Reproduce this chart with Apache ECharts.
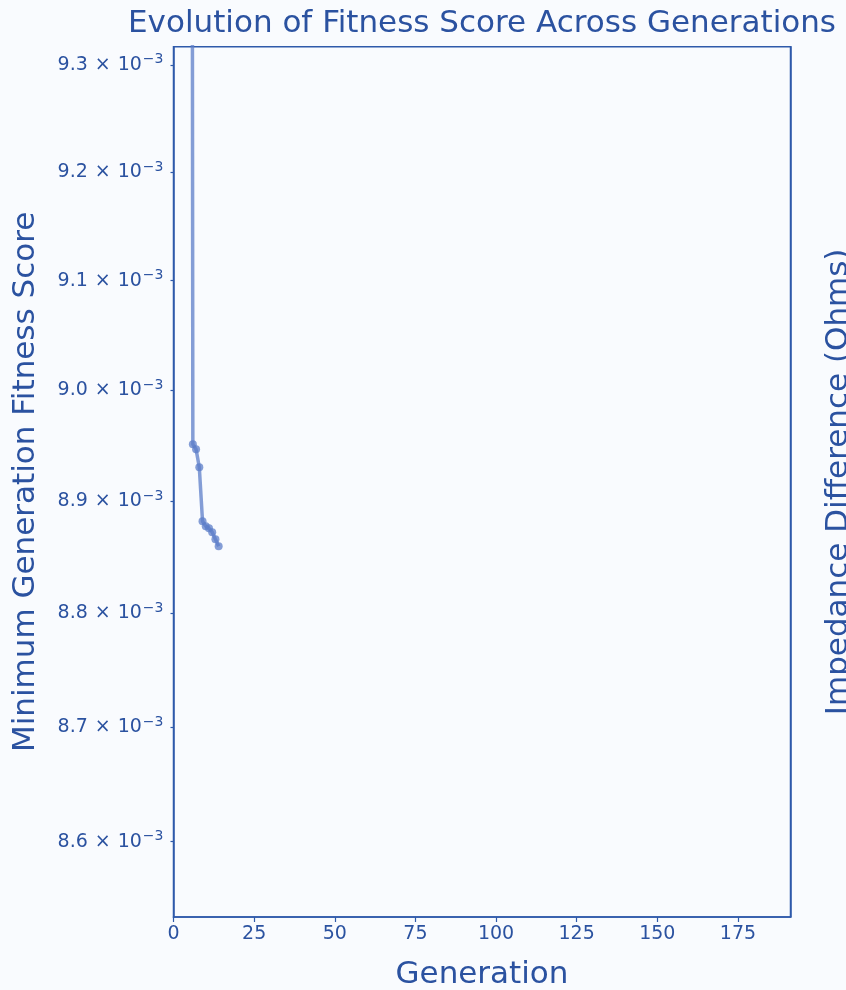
<!DOCTYPE html>
<html>
<head>
<meta charset="utf-8">
<style>
  html, body { margin: 0; padding: 0; background: #f9fbfe; }
  #chart { width: 846px; height: 990px; }
</style>
<script src="https://cdn.jsdelivr.net/npm/echarts@6/dist/echarts.min.js"></script>
</head>
<body>
<div id="chart"></div>
<script>
// Best (minimum) fitness score of each generation
const generations = [0, 1, 2, 3, 4, 5, 6, 7, 8, 9, 10, 11, 12, 13, 14];
const minFitness = [0.0412, 0.0298, 0.0215, 0.0167, 0.0139, 0.0121,
  0.0089512, 0.0089467, 0.0089305, 0.0088821, 0.0088776, 0.0088758,
  0.0088723, 0.0088660, 0.0088598];

// Log-scale tick values shown on the fitness axis
const yTicks = [0.0086, 0.0087, 0.0088, 0.0089, 0.0090, 0.0091, 0.0092, 0.0093];
const xTicks = [0, 25, 50, 75, 100, 125, 150, 175];

const yRange = [0.008535, 0.009317];
const xRange = [0, 191.3];

const ink = '#2b52a0';
const spine = '#2f5aaa';
const font = 'DejaVu Sans';

// The fitness axis is drawn in log10 space so that it behaves as a log scale
const log10 = v => Math.log10(v);

const chart = echarts.init(document.getElementById('chart'), null, { renderer: 'canvas' });

chart.setOption({
  backgroundColor: '#f9fbfe',
  animation: false,
  title: {
    text: 'Evolution of Fitness Score Across Generations',
    left: 482,
    top: 8,
    padding: 0,
    textAlign: 'center',
    textStyle: { color: ink, fontFamily: font, fontSize: 31, fontWeight: 'normal' }
  },
  grid: {
    left: 173.5, right: 55.5, top: 46.7, bottom: 73,
    outerBoundsMode: 'none',
    containLabel: false,
    show: true, borderColor: spine, borderWidth: 1.5, backgroundColor: 'transparent'
  },
  xAxis: {
    type: 'value',
    min: xRange[0], max: xRange[1], interval: 25,
    name: 'Generation',
    nameLocation: 'middle',
    nameGap: 42,
    nameTextStyle: { color: ink, fontFamily: font, fontSize: 31 },
    axisLine: { lineStyle: { color: spine, width: 1.5 } },
    axisTick: { length: 5, lineStyle: { color: spine, width: 1.2 }, customValues: xTicks },
    axisLabel: { color: ink, fontFamily: font, fontSize: 19, margin: 8, customValues: xTicks },
    splitLine: { show: false }
  },
  yAxis: [
    {
      type: 'value',
      position: 'left',
      min: log10(yRange[0]), max: log10(yRange[1]),
      name: 'Minimum Generation Fitness Score',
      nameLocation: 'middle',
      nameGap: 132,
      nameTextStyle: { color: ink, fontFamily: font, fontSize: 31 },
      axisLine: { show: true, lineStyle: { color: spine, width: 1.5 } },
      axisTick: { length: 3, lineStyle: { color: spine, width: 1.2 }, customValues: yTicks.map(log10) },
      axisLabel: {
        margin: 10,
        customValues: yTicks.map(log10),
        formatter: function (val) {
          const mant = (Math.pow(10, val) * 1000).toFixed(1);
          return '{m|' + mant + '}{x|×}{m|10}{e|−3}';
        },
        rich: {
          m: { color: ink, fontFamily: font, fontSize: 19, lineHeight: 24 },
          x: { color: ink, fontFamily: font, fontSize: 19, lineHeight: 24, padding: [0, 7, 0, 7] },
          e: { color: ink, fontFamily: font, fontSize: 14, lineHeight: 24, verticalAlign: 'top', padding: [0, 0, 0, 1] }
        }
      },
      splitLine: { show: false }
    },
    {
      type: 'value',
      position: 'right',
      min: 0, max: 1,
      name: 'Impedance Difference (Ohms)',
      nameLocation: 'middle',
      nameGap: 33,
      nameTextStyle: { color: ink, fontFamily: font, fontSize: 31 },
      axisLine: { show: true, lineStyle: { color: spine, width: 1.5 } },
      axisTick: { show: false },
      axisLabel: { show: false },
      splitLine: { show: false }
    }
  ],
  series: [
    {
      type: 'line',
      yAxisIndex: 0,
      data: generations.map((g, i) => [g, log10(minFitness[i])]),
      clip: true,
      symbol: 'circle',
      symbolSize: 8,
      showSymbol: true,
      lineStyle: { color: 'rgba(92,126,200,0.75)', width: 3.5 },
      itemStyle: { color: 'rgba(92,126,200,0.75)' }
    }
  ]
});
</script>
</body>
</html>
